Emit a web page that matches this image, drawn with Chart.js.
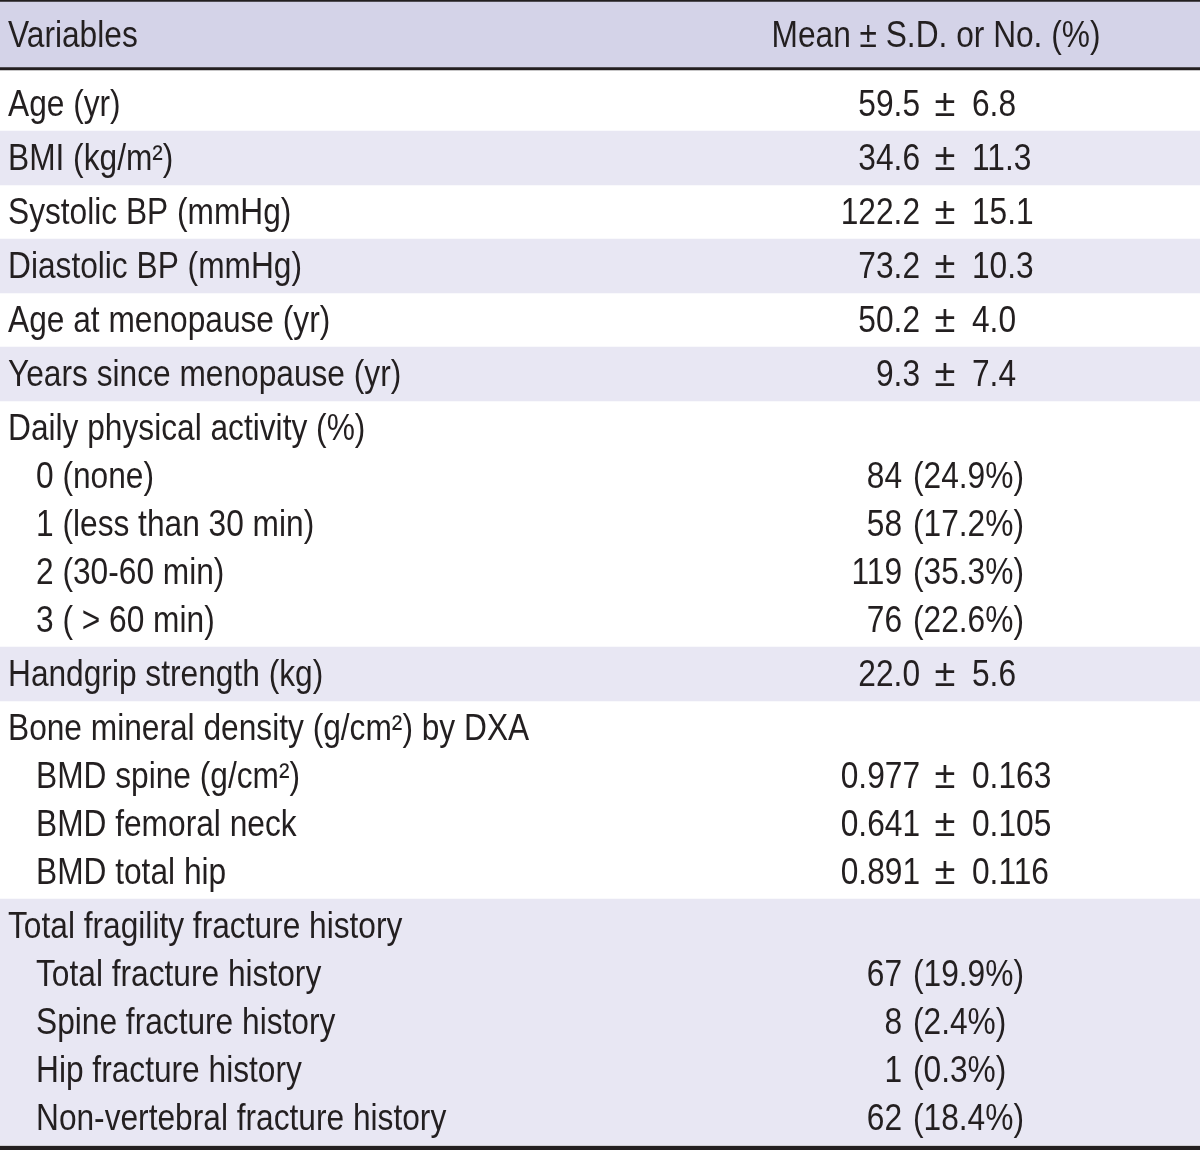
<!DOCTYPE html>
<html lang="en">
<head>
<meta charset="UTF-8">
<title>Baseline characteristics</title>
<script src="https://cdn.jsdelivr.net/npm/chart.js@4.4.1/dist/chart.umd.min.js"></script>
<style>
  html, body { margin: 0; padding: 0; background: #fff; }
  #wrap { width: 1200px; height: 1150px; }
</style>
</head>
<body>
<div id="wrap"><canvas id="tbl" width="1200" height="1150"></canvas></div>
<script>
// table content
var headers = ['Variables', 'Mean \u00b1 S.D. or No. (%)'];
var variables = [
  'Age (yr)', 'BMI (kg/m\u00b2)', 'Systolic BP (mmHg)', 'Diastolic BP (mmHg)',
  'Age at menopause (yr)', 'Years since menopause (yr)',
  'Daily physical activity (%)', '0 (none)', '1 (less than 30 min)', '2 (30-60 min)', '3 ( > 60 min)',
  'Handgrip strength (kg)',
  'Bone mineral density (g/cm\u00b2) by DXA', 'BMD spine (g/cm\u00b2)', 'BMD femoral neck', 'BMD total hip',
  'Total fragility fracture history', 'Total fracture history', 'Spine fracture history',
  'Hip fracture history', 'Non-vertebral fracture history'
];
// row = single line, group = heading of a block, item = line inside a block
var kinds = ['row', 'row', 'row', 'row', 'row', 'row',
  'group', 'item', 'item', 'item', 'item',
  'row',
  'group', 'item', 'item', 'item',
  'group', 'item', 'item', 'item', 'item'];
var means = [59.5, 34.6, 122.2, 73.2, 50.2, 9.3, null, null, null, null, null, 22.0,
  null, 0.977, 0.641, 0.891, null, null, null, null, null];
var sds = [6.8, 11.3, 15.1, 10.3, 4.0, 7.4, null, null, null, null, null, 5.6,
  null, 0.163, 0.105, 0.116, null, null, null, null, null];
var decimals = [1, 1, 1, 1, 1, 1, 0, 0, 0, 0, 0, 1, 0, 3, 3, 3, 0, 0, 0, 0, 0];
var counts = [null, null, null, null, null, null, null, 84, 58, 119, 76, null,
  null, null, null, null, null, 67, 8, 1, 62];
var percents = [null, null, null, null, null, null, null, 24.9, 17.2, 35.3, 22.6, null,
  null, null, null, null, null, 19.9, 2.4, 0.3, 18.4];

// layout (in y-scale units, top = 0)
var TOTAL = 1150;
var HEAD_END = 67, RULE_W = 3;
var FIRST_LINE = 54, NEXT_LINE = 48;
var blocks = [];
var centers = [];
var pos = HEAD_END + RULE_W + 7;
kinds.forEach(function (k, i) {
  if (k !== 'item') {
    blocks.push({ start: pos, lines: 0 });
  }
  var b = blocks[blocks.length - 1];
  centers[i] = b.start + FIRST_LINE / 2 + NEXT_LINE * b.lines;
  b.lines++;
  b.end = b.start + FIRST_LINE + NEXT_LINE * (b.lines - 1);
  pos = b.end;
});
var tableEnd = pos;

var INK = '#231f20';
var HEAD_BG = '#d4d3e8';
var SHADE = '#e8e7f3';

function band(from, to, color) {
  return {
    data: [[from, to]],
    backgroundColor: color,
    borderWidth: 0,
    grouped: false,
    barPercentage: 1,
    categoryPercentage: 1
  };
}

var datasets = [band(2, HEAD_END, HEAD_BG)];
blocks.forEach(function (b, j) {
  if (j % 2 === 1) datasets.push(band(b.start, b.end, SHADE));
});
datasets.push(band(0, 2, INK));
datasets.push(band(HEAD_END, HEAD_END + RULE_W, INK));
datasets.push(band(tableEnd + 1, tableEnd + 5, INK));

// condensed look: regular sans squeezed horizontally
var FONT = '36px "Liberation Sans", Arial, sans-serif';
var PM_FONT = '38px "Liberation Sans", Arial, sans-serif';
var SQUEEZE = 0.88;

function say(ctx, str, x, y, align, font, sx) {
  ctx.save();
  ctx.font = font || FONT;
  ctx.textAlign = align;
  ctx.translate(x, y);
  ctx.scale(sx || SQUEEZE, 1);
  ctx.fillText(str, 0, 0);
  ctx.restore();
}

var textPlugin = {
  id: 'tableText',
  afterDatasetsDraw: function (chart) {
    var ctx = chart.ctx;
    var ys = chart.scales.y;
    var left = chart.chartArea.left;
    ctx.save();
    ctx.fillStyle = INK;
    ctx.textBaseline = 'alphabetic';

    var hb = ys.getPixelForValue(35) + 12;
    say(ctx, headers[0], left + 8, hb, 'left');
    say(ctx, headers[1], left + 936, hb, 'center');

    variables.forEach(function (label, i) {
      var base = ys.getPixelForValue(centers[i]) + 12;
      say(ctx, label, left + (kinds[i] === 'item' ? 36 : 8), base, 'left');
      if (means[i] !== null) {
        say(ctx, means[i].toFixed(decimals[i]), left + 920, base, 'right');
        say(ctx, sds[i].toFixed(decimals[i]), left + 972, base, 'left');
        say(ctx, '\u00b1', left + 945, base, 'center', PM_FONT, 1);
      } else if (counts[i] !== null) {
        say(ctx, String(counts[i]), left + 902, base, 'right');
        say(ctx, '(' + percents[i].toFixed(1) + '%)', left + 913, base, 'left');
      }
    });
    ctx.restore();
  }
};

new Chart(document.getElementById('tbl').getContext('2d'), {
  type: 'bar',
  data: { labels: ['table'], datasets: datasets },
  options: {
    responsive: false,
    animation: false,
    devicePixelRatio: 1,
    layout: { padding: 0 },
    plugins: { legend: { display: false }, tooltip: { enabled: false } },
    scales: {
      x: { display: false },
      y: { display: false, min: 0, max: TOTAL, reverse: true }
    }
  },
  plugins: [textPlugin]
});
</script>
</body>
</html>
